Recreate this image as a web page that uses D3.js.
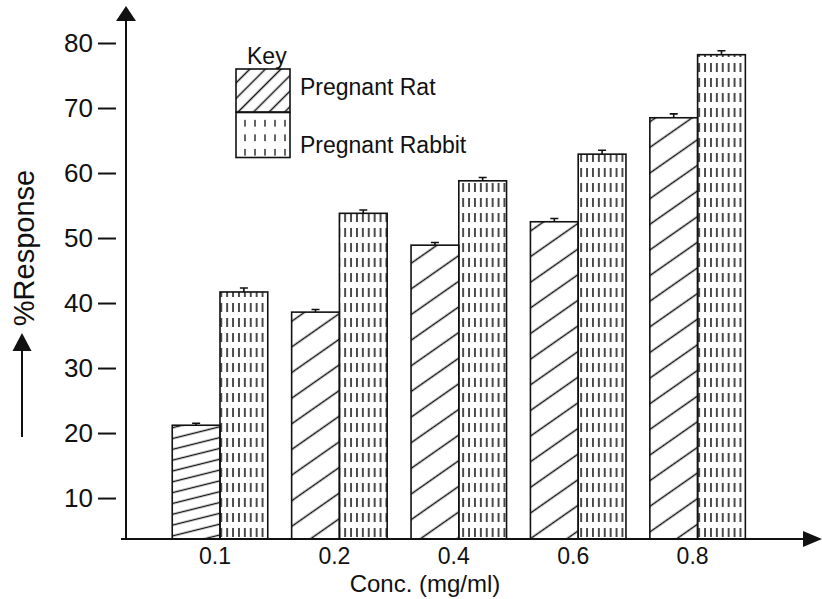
<!DOCTYPE html>
<html>
<head>
<meta charset="utf-8">
<script src="https://cdn.jsdelivr.net/npm/d3@7"></script>
<style>
  body { margin: 0; background: #fff; }
  text { font-family: "Liberation Sans", Arial, sans-serif; fill: #111; }
</style>
</head>
<body>
<div id="chart"></div>
<script>
let width = 822;
let height = 599;

// data
let concentrations = ["0.1", "0.2", "0.4", "0.6", "0.8"];
let ratValues = [21.2, 38.6, 48.9, 52.5, 68.5];
let rabbitValues = [41.7, 53.8, 58.8, 62.9, 78.2];
let ratErrors = [0.3, 0.4, 0.4, 0.5, 0.6];
let rabbitErrors = [0.6, 0.5, 0.5, 0.6, 0.6];
let yTicks = [10, 20, 30, 40, 50, 60, 70, 80];
let seriesNames = ["Pregnant Rat", "Pregnant Rabbit"];

let svg = d3.select("#chart").append("svg")
            .attr("width", width)
            .attr("height", height);

let x = d3.scaleBand()
          .domain(concentrations)
          .range([160.3, 757.3])
          .paddingInner(0.2)
          .paddingOuter(0.1);

// axis floor sits a bit above zero in the original
let y = d3.scaleLinear()
          .domain([3.7, 80])
          .range([539, 43]);

let barW = x.bandwidth() / 2;

//hatch patterns
let defs = svg.append("defs");

function hatch(id, gap, angle, sw) {
    let p = defs.append("pattern")
                .attr("id", id)
                .attr("patternUnits", "userSpaceOnUse")
                .attr("width", 40)
                .attr("height", gap)
                .attr("patternTransform", "rotate(" + angle + ")");
    p.append("line")
     .attr("x1", 0).attr("x2", 40)
     .attr("y1", gap / 2).attr("y2", gap / 2)
     .attr("stroke", "#111")
     .attr("stroke-width", sw);
}

function dashes(id, w, h, len, sw) {
    let p = defs.append("pattern")
                .attr("id", id)
                .attr("patternUnits", "userSpaceOnUse")
                .attr("width", w)
                .attr("height", h);
    p.append("line")
     .attr("x1", w / 2).attr("x2", w / 2)
     .attr("y1", (h - len) / 2).attr("y2", (h + len) / 2)
     .attr("stroke", "#111")
     .attr("stroke-width", sw);
}

hatch("ratHatch", 21, -35, 1.5);
hatch("ratFlat", 10.5, -14, 1.4);
hatch("keyHatch", 11, -45, 1.4);
dashes("rabbitDash", 5.9, 15, 9, 1.5);
dashes("keyDash", 10, 14.5, 7, 1.3);

let groups = concentrations.map(function(c, i) {
    return {c: c, rat: ratValues[i], rabbit: rabbitValues[i], ratErr: ratErrors[i], rabbitErr: rabbitErrors[i]};
});

//bars
let g = svg.selectAll(".grp")
           .data(groups)
           .enter().append("g")
           .attr("class", "grp");

g.append("rect")
 .attr("x", d => x(d.c))
 .attr("y", d => y(d.rat))
 .attr("width", barW)
 .attr("height", d => y(3.7) - y(d.rat))
 .attr("fill", (d, i) => i === 0 ? "url(#ratFlat)" : "url(#ratHatch)")
 .attr("stroke", "#111")
 .attr("stroke-width", 1.6);

g.append("rect")
 .attr("x", d => x(d.c) + barW)
 .attr("y", d => y(d.rabbit))
 .attr("width", barW)
 .attr("height", d => y(3.7) - y(d.rabbit))
 .attr("fill", "url(#rabbitDash)")
 .attr("stroke", "#111")
 .attr("stroke-width", 1.6);

//error bars
function errBar(sel, off, val, err) {
    sel.append("path")
       .attr("d", d => {
           let cx = x(d.c) + off + barW / 2;
           return "M" + cx + "," + y(d[val]) + "V" + y(d[val] + d[err]) +
                  "M" + (cx - 4) + "," + y(d[val] + d[err]) + "h8";
       })
       .attr("stroke", "#111")
       .attr("stroke-width", 1.6)
       .attr("fill", "none");
}
errBar(g, 0, "rat", "ratErr");
errBar(g, barW, "rabbit", "rabbitErr");

//y ticks, set off from the axis line
let yAxis = svg.append("g")
               .attr("transform", "translate(116,0)")
               .call(d3.axisLeft(y).tickValues(yTicks).tickSize(18).tickPadding(5));
yAxis.select(".domain").remove();
yAxis.selectAll("line").attr("stroke", "#111").attr("stroke-width", 2);
yAxis.selectAll("text")
     .attr("font-size", 26)
     .attr("font-family", "Liberation Sans, Arial, sans-serif")
     .attr("fill", "#111");

//x tick labels
svg.selectAll(".xlab")
   .data(concentrations)
   .enter().append("text")
   .attr("class", "xlab")
   .attr("x", d => x(d) + x.bandwidth() / 2 - 5)
   .attr("y", 564)
   .attr("text-anchor", "middle")
   .attr("font-size", 23)
   .text(d => d);

//axis lines with arrows
svg.append("path")
   .attr("d", "M126," + (y(3.7) + 1) + "V14")
   .attr("stroke", "#111").attr("stroke-width", 2);
svg.append("path")
   .attr("d", "M116,21 L126,6 L136,21 Z")
   .attr("fill", "#111");

svg.append("path")
   .attr("d", "M121," + y(3.7) + "H810")
   .attr("stroke", "#111").attr("stroke-width", 2);
svg.append("path")
   .attr("d", "M803," + (y(3.7) - 8) + " L822," + y(3.7) + " L803," + (y(3.7) + 8) + " Z")
   .attr("fill", "#111");

//axis titles
svg.append("text")
   .attr("x", 425)
   .attr("y", 592)
   .attr("text-anchor", "middle")
   .attr("font-size", 24)
   .text("Conc. (mg/ml)");

svg.append("text")
   .attr("transform", "translate(34,248) rotate(-90)")
   .attr("text-anchor", "middle")
   .attr("font-size", 29)
   .text("%Response");

svg.append("path")
   .attr("d", "M22,437V346")
   .attr("stroke", "#111").attr("stroke-width", 2);
svg.append("path")
   .attr("d", "M12.5,351 L22,333 L31.5,351 Z")
   .attr("fill", "#111");

//key
svg.append("text")
   .attr("x", 247)
   .attr("y", 64)
   .attr("font-size", 23)
   .text("Key");

let keyFills = ["url(#keyHatch)", "url(#keyDash)"];
let key = svg.selectAll(".key")
             .data(seriesNames)
             .enter().append("g")
             .attr("class", "key");

key.append("rect")
   .attr("x", 236)
   .attr("y", (d, i) => 69 + i * 43.5)
   .attr("width", 54)
   .attr("height", (d, i) => i === 0 ? 43 : 45)
   .attr("fill", (d, i) => keyFills[i])
   .attr("stroke", "#111")
   .attr("stroke-width", 1.6);

key.append("text")
   .attr("x", 300)
   .attr("y", (d, i) => i === 0 ? 95 : 153)
   .attr("font-size", 23)
   .text(d => d);
</script>
</body>
</html>
